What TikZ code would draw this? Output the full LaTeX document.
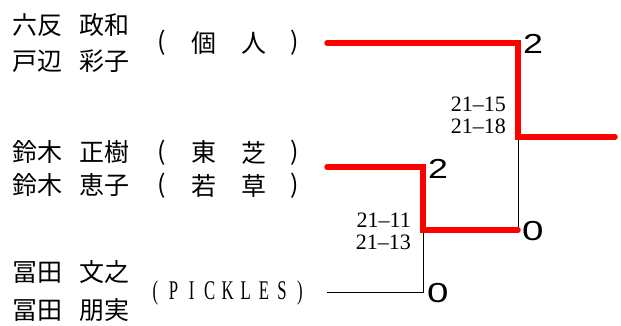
\documentclass[tikz,border=0pt]{standalone}
\usepackage{fontspec}
\usepackage{graphicx}
\newfontfamily\cjk{Noto Sans CJK JP}
\newfontfamily\scorefont{Liberation Sans}
\newfontfamily\serifb{Liberation Serif}[Ligatures=TeX]
\newcommand\pk[1]{\makebox[18.06pt]{\scalebox{0.62}[1]{#1}}}
\newcommand\wide[1]{\scalebox{1.3}[1]{#1}}
\newcommand\affrow[6]{%
  \node[aff] (#1a) at (162,#2) {(};
  \node[aff] (#1b) at (204,#2) {#4};
  \node[aff] (#1c) at (254,#2) {#5};
  \node[aff] (#1d) at (295,#2) {)};}
\tikzset{
  player/.style={anchor=west, inner sep=0pt, font=\cjk\fontsize{25}{25}\selectfont},
  aff/.style={inner sep=0pt, font=\cjk\fontsize{25}{25}\selectfont},
  gamescore/.style={anchor=east, inner sep=0pt, align=right, font=\serifb\fontsize{22}{22}\selectfont},
  setscore/.style={anchor=west, inner sep=0pt, font=\scorefont\fontsize{27.5}{27.5}\selectfont},
  win/.style={draw=red, line width=5.5pt, line cap=round, line join=miter},
  lose/.style={draw=black, line width=1pt}
}
\begin{document}
\begin{tikzpicture}[x=1pt,y=-1pt]
\useasboundingbox (0,0) rectangle (621,326);
% players
\node[player] (p1a) at (12,25) {六反\hspace{17pt}政和};
\node[player] (p1b) at (12,61) {戸辺\hspace{17pt}彩子};
\node[player] (p2a) at (12,152.5) {鈴木\hspace{17pt}正樹};
\node[player] (p2b) at (12,185.5) {鈴木\hspace{17pt}恵子};
\node[player] (p3a) at (12,272.5) {冨田\hspace{17pt}文之};
\node[player] (p3b) at (12,310) {冨田\hspace{17pt}朋実};
% affiliations
\affrow{t1}{43}{(}{個}{人}{)}
\affrow{t2a}{152.5}{(}{東}{芝}{)}
\affrow{t2b}{185.5}{(}{若}{草}{)}
\node[inner sep=0pt, font=\serifb\fontsize{27}{27}\selectfont] (t3) at (227.75,293)
  {\pk{(}\pk{P}\pk{I}\pk{C}\pk{K}\pk{L}\pk{E}\pk{S}\pk{)}};
% bracket points
\coordinate (e1) at (327,43);
\coordinate (c1) at (518,43);
\coordinate (c1b) at (518,137);
\coordinate (w) at (615,137);
\coordinate (e2) at (327,167);
\coordinate (c2) at (423,167);
\coordinate (c2b) at (423,230);
\coordinate (m) at (518,230);
\coordinate (e3) at (327,292);
\coordinate (c3) at (423,292);
% losers
\draw[lose] (e3) -- (c3) -- (c2b);
\draw[lose] (m) -- (c1b);
% winners
\draw[win] (e1) -- (c1) -- (c1b) -- (w);
\draw[win] (e2) -- (c2) -- (c2b) -- (m);
% scores
\node[setscore] (s1) at (523,43.5) {\wide{2}};
\node[setscore] (s2) at (428,169) {\wide{2}};
\node[setscore] (s3) at (522,231) {\scalebox{1.4}[1]{0}};
\node[setscore] (s4) at (427,293) {\scalebox{1.4}[1]{0}};
\node[gamescore] (g1) at (506,115) {21–15\\21–18};
\node[gamescore] (g2) at (411,231) {21–11\\21–13};
\end{tikzpicture}
\end{document}
